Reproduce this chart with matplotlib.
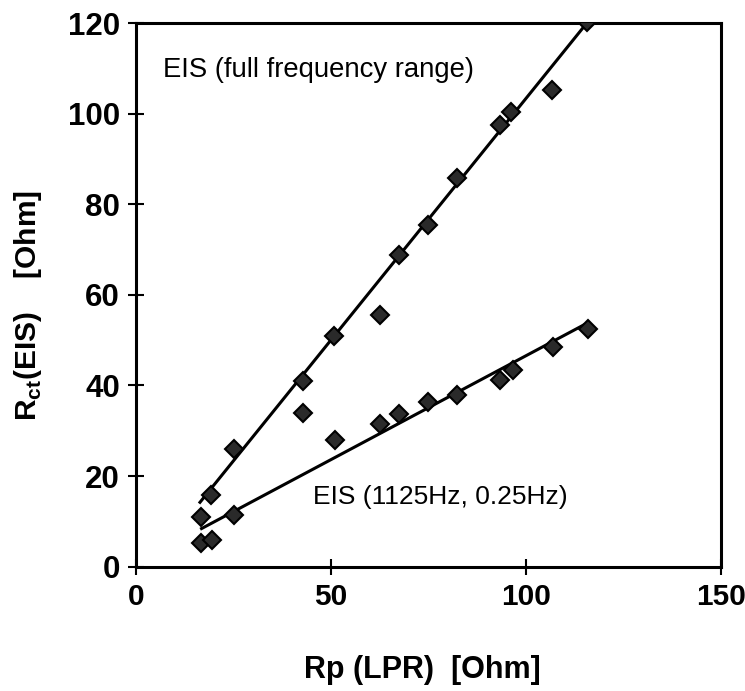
import matplotlib
matplotlib.use("Agg")
import matplotlib.pyplot as plt

plt.rcParams['font.family'] = ['Liberation Sans', 'DejaVu Sans']
plt.rcParams['mathtext.fontset'] = 'custom'
plt.rcParams['mathtext.rm'] = 'Liberation Sans:bold'
plt.rcParams['mathtext.bf'] = 'Liberation Sans:bold'

# EIS full frequency range vs LPR
rp_full = [16.6, 19.2, 25.0, 42.7, 50.8, 62.6, 67.4, 75.0, 82.2, 93.3, 96.1, 106.6, 115.6]
rct_full = [10.9, 15.8, 25.9, 41.0, 50.9, 55.5, 68.8, 75.4, 85.7, 97.5, 100.4, 105.3, 120.3]

# EIS two-frequency (1125 Hz, 0.25 Hz) vs LPR
rp_two = [16.6, 19.4, 25.0, 42.9, 51.0, 62.7, 67.5, 75.0, 82.2, 93.3, 96.6, 107.0, 116.0]
rct_two = [5.3, 5.9, 11.5, 34.0, 27.9, 31.4, 33.6, 36.4, 37.9, 41.2, 43.5, 48.5, 52.4]

# regression lines (end points)
fit_full_x = [16.4, 115.6]
fit_full_y = [14.2, 120.0]
fit_two_x = [16.8, 114.7]
fit_two_y = [8.4, 53.3]

fig = plt.figure(figsize=(7.45, 6.91), dpi=100)
ax = fig.add_axes([0.1826, 0.180, 0.785, 0.7865])

ax.plot(fit_full_x, fit_full_y, color='black', lw=2.2, zorder=2)
ax.plot(fit_two_x, fit_two_y, color='black', lw=2.2, zorder=2)

mk = dict(marker='D', ms=9, mfc='#2a2a2a', mec='black', mew=1.5, ls='none', zorder=3)
ax.plot(rp_full, rct_full, **mk)
ax.plot(rp_two, rct_two, **mk)

ax.text(6.9, 109.6, 'EIS (full frequency range)', fontsize=19.8, va='center', ha='left')
ax.text(45.4, 15.3, 'EIS (1125Hz, 0.25Hz)', fontsize=19, va='center', ha='left')

ax.set_xlim(0, 150)
ax.set_ylim(0, 120)
ax.set_xticks([0, 50, 100, 150])
ax.set_yticks([0, 20, 40, 60, 80, 100, 120])
ax.tick_params(direction='inout', length=11, width=1.5, labelsize=22.5, pad=6)
ax.tick_params(axis='x', labelsize=21.5)
for lab in ax.get_xticklabels() + ax.get_yticklabels():
    lab.set_fontweight('bold')
for sp in ax.spines.values():
    sp.set_linewidth(2.2)

ax.set_xlabel('Rp (LPR)  [Ohm]', fontsize=22, fontweight='bold')
ax.xaxis.set_label_coords(0.49, -0.163)
ax.set_ylabel(r'R$_{\mathbf{ct}}$(EIS)    [Ohm]', fontsize=21.5, fontweight='bold')
ax.yaxis.set_label_coords(-0.158, 0.48)

fig.savefig('out.png', dpi=100)
